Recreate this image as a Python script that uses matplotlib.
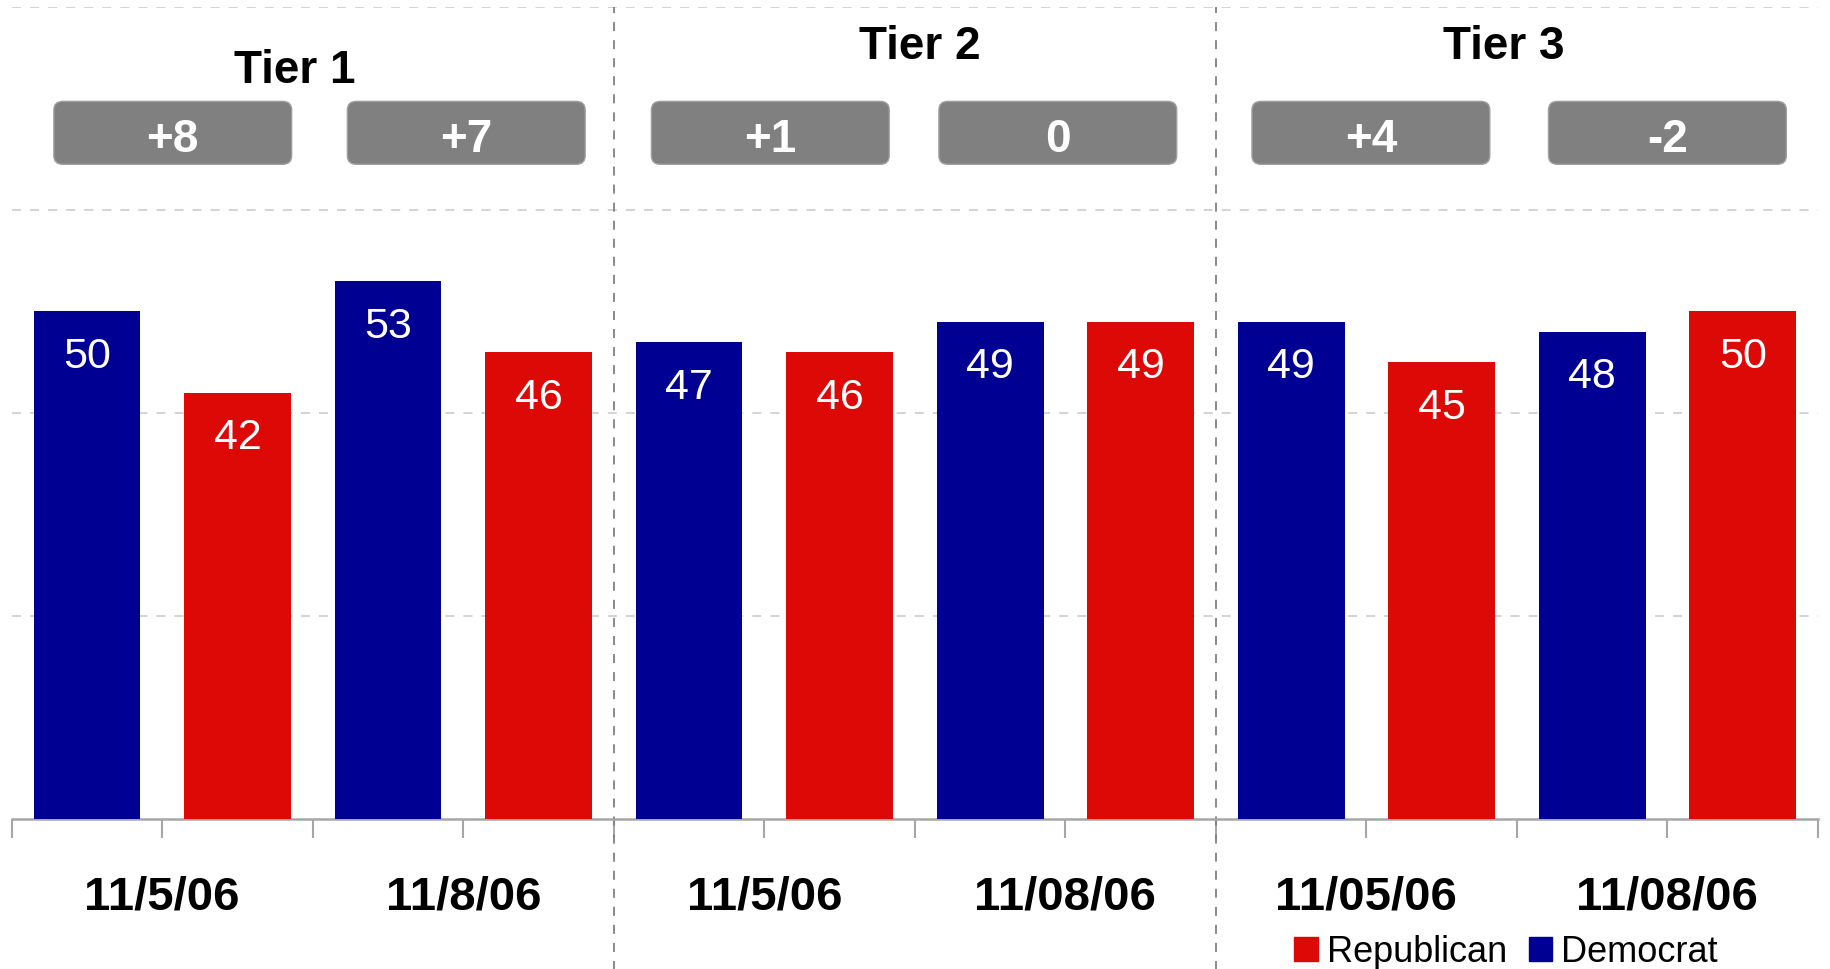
import matplotlib
matplotlib.use('Agg')

import matplotlib.pyplot as plt
import numpy as np
from matplotlib.patches import FancyBboxPatch, Patch

plt.rcParams['font.family'] = ['Liberation Sans', 'DejaVu Sans']

# data
tiers = ['Tier 1', 'Tier 2', 'Tier 3']
dates = ['11/5/06', '11/8/06', '11/5/06', '11/08/06', '11/05/06', '11/08/06']
democrat = [50, 53, 47, 49, 49, 48]
republican = [42, 46, 46, 49, 45, 50]
margins = ['+8', '+7', '+1', '0', '+4', '-2']

blue = '#000092'
red = '#DD0907'

# layout (data units)
tier_label_x = [1.38, 5.53, 9.41]
tier_label_y = [73.7, 76.1, 76.1]
box_bottom, box_top = 64.5, 70.7
box_shift = [0.07, 0.02, 0.04, -0.05, 0.03, 0.0]

fig = plt.figure(figsize=(18.3, 9.69), dpi=100)
ax = fig.add_axes([0.0064, 0.1548, 0.9870, 0.8380])

# interleave D, R for each date
values = []
colors = []
for d, r in zip(democrat, republican):
    values += [d, r]
    colors += [blue, red]
x = np.arange(len(values))

ax.bar(x, values, width=0.71, color=colors, zorder=3)

for xi, v in zip(x, values):
    ax.text(xi, v - 4.5, str(v), ha='center', va='center', color='white',
            fontsize=31, zorder=4)

ax.set_xlim(-0.5, len(values) - 0.5)
ax.set_ylim(0, 80)

# grid
ax.set_yticks([20, 40, 60, 80])
ax.yaxis.grid(True, color='#D0D0D0', linestyle=(0, (5, 5)), linewidth=1.3)
ax.tick_params(axis='y', left=False, labelleft=False)

ax.set_xticks(np.arange(-0.5, len(values), 1.0))
ax.tick_params(axis='x', length=14, width=1.5, color='#A6A6A6', labelbottom=False)
for s in ['left', 'right', 'top']:
    ax.spines[s].set_visible(False)
ax.spines['bottom'].set_color('#A6A6A6')
ax.spines['bottom'].set_linewidth(1.8)

# group separators
for sep in [3.5, 7.5]:
    ax.axvline(sep, ymin=-0.19, ymax=1.0, color='#808080', linestyle=(0, (5, 5)),
               linewidth=1.3, clip_on=False, zorder=2)

# date labels, margin boxes
box_w = 1.58
for i, (dt, m) in enumerate(zip(dates, margins)):
    cx = 2 * i + 0.5
    ax.text(cx, -7.75, dt, ha='center', va='center', fontsize=34,
            fontweight='bold', clip_on=False)
    bx = cx + box_shift[i]
    box = FancyBboxPatch((bx - box_w / 2, box_bottom), box_w, box_top - box_bottom,
                         boxstyle='round,pad=0,rounding_size=0.06',
                         mutation_aspect=14.0, facecolor='#808080',
                         edgecolor='#A0A0A0', linewidth=1, zorder=3)
    ax.add_patch(box)
    ax.text(bx, (box_bottom + box_top) / 2 - 0.7, m, ha='center', va='center',
            color='white', fontsize=33, fontweight='bold', zorder=4)

for t, tx, ty in zip(tiers, tier_label_x, tier_label_y):
    ax.text(tx, ty, t, ha='center', va='center', fontsize=33, fontweight='bold')

handles = [Patch(color=red, label='Republican'), Patch(color=blue, label='Democrat')]
fig.legend(handles=handles, loc='center', bbox_to_anchor=(0.823, 0.017), ncol=2,
           frameon=False, fontsize=26, handlelength=0.65, handleheight=0.65,
           handletextpad=0.25, columnspacing=0.6, borderpad=0, borderaxespad=0)

fig.savefig('out.png', dpi=100)
plt.close(fig)
